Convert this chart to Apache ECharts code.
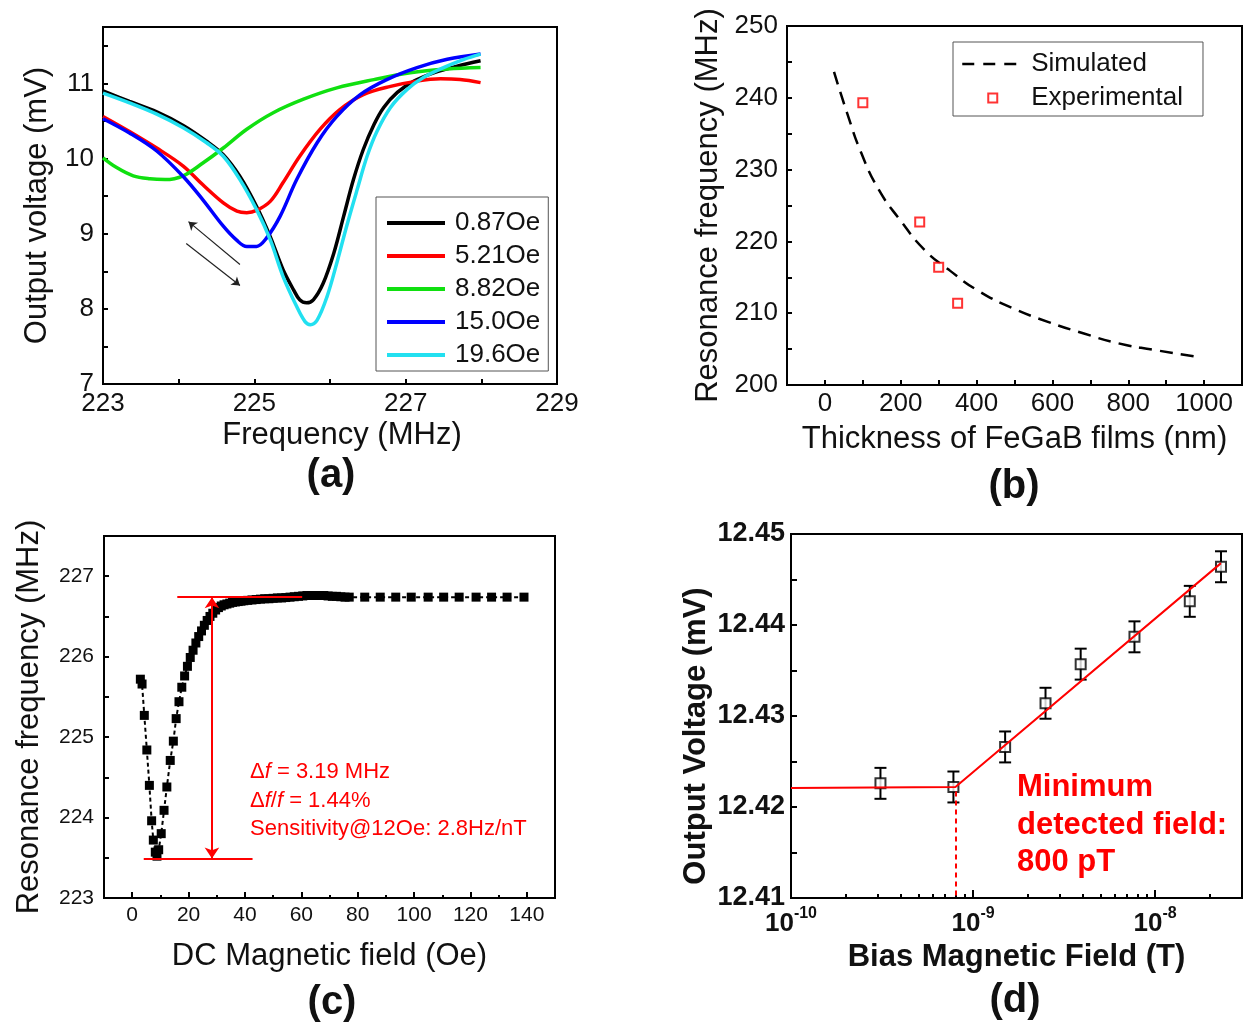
<!DOCTYPE html>
<html><head><meta charset="utf-8">
<script src="https://cdn.jsdelivr.net/npm/echarts@6/dist/echarts.min.js"></script>
<style>html,body{margin:0;padding:0;background:#fff}#c{width:1248px;height:1028px}</style>
</head><body><div id="c"></div>
<script>
// ---------- (a) output voltage vs frequency ----------
const aNames = ['0.87Oe', '5.21Oe', '8.82Oe', '15.0Oe', '19.6Oe'];
const aColors = ['#000000', '#ff0000', '#10e010', '#0000ff', '#22e0f0'];
const aFreq087 = [223.00, 223.35, 223.71, 224.06, 224.37, 224.59, 224.81, 225.03, 225.21, 225.38, 225.52, 225.60, 225.69, 225.78, 225.91, 226.05, 226.18, 226.31, 226.44, 226.58, 226.71, 226.89, 227.11, 227.37, 227.68, 227.99];
const aVolt087 = [10.90, 10.76, 10.62, 10.44, 10.23, 10.05, 9.76, 9.36, 8.96, 8.52, 8.25, 8.12, 8.08, 8.12, 8.34, 8.74, 9.23, 9.72, 10.12, 10.45, 10.68, 10.88, 11.03, 11.14, 11.23, 11.30];
const aFreq521 = [223.00, 223.35, 223.71, 224.06, 224.32, 224.59, 224.77, 224.90, 225.03, 225.21, 225.38, 225.60, 225.87, 226.13, 226.44, 226.80, 227.15, 227.46, 227.72, 227.99];
const aVolt521 = [10.56, 10.36, 10.14, 9.90, 9.65, 9.41, 9.30, 9.28, 9.31, 9.43, 9.68, 10.03, 10.39, 10.65, 10.85, 10.96, 11.03, 11.06, 11.05, 11.01];
const aFreq882 = [223.00, 223.18, 223.40, 223.62, 223.82, 224.06, 224.32, 224.59, 224.90, 225.25, 225.65, 226.09, 226.58, 227.06, 227.55, 227.99];
const aVolt882 = [10.01, 9.88, 9.77, 9.73, 9.72, 9.77, 9.94, 10.14, 10.39, 10.61, 10.79, 10.94, 11.05, 11.14, 11.19, 11.21];
const aFreq150 = [223.00, 223.35, 223.71, 224.06, 224.32, 224.59, 224.77, 224.90, 225.03, 225.16, 225.34, 225.56, 225.83, 226.09, 226.40, 226.75, 227.15, 227.55, 227.99];
const aVolt150 = [10.53, 10.34, 10.10, 9.76, 9.45, 9.10, 8.91, 8.83, 8.83, 8.94, 9.23, 9.72, 10.21, 10.56, 10.85, 11.05, 11.21, 11.32, 11.39];
const aFreq196 = [223.00, 223.35, 223.71, 224.06, 224.37, 224.59, 224.81, 225.03, 225.21, 225.38, 225.56, 225.67, 225.74, 225.83, 225.96, 226.09, 226.22, 226.36, 226.49, 226.62, 226.80, 227.02, 227.24, 227.50, 227.77, 227.99];
const aVolt196 = [10.87, 10.74, 10.59, 10.41, 10.21, 10.03, 9.72, 9.32, 8.92, 8.43, 8.03, 7.83, 7.79, 7.85, 8.16, 8.61, 9.10, 9.59, 10.03, 10.36, 10.68, 10.92, 11.08, 11.21, 11.32, 11.39];
const aArrowUp = [[224.81, 8.59], [224.13, 9.16]];
const aArrowDown = [[224.10, 8.87], [224.81, 8.31]];

// ---------- (b) resonance frequency vs thickness ----------
const bSimThick = [24, 59, 96, 142, 198, 263, 328, 402, 495, 588, 681, 774, 867, 974];
const bSimFreq = [243.6, 237.8, 232.3, 227.2, 223.0, 218.8, 216.0, 213.2, 210.7, 208.8, 207.2, 205.8, 204.9, 204.0];
const bExpThick = [100, 250, 300, 350];
const bExpFreq = [239.3, 222.7, 216.4, 211.4];

// ---------- (c) resonance frequency vs DC field ----------
const cField = [2.9, 3.5, 4.3, 5.2, 6.1, 6.9, 7.5, 8.2, 8.8, 9.4, 10.3, 11.3, 12.3, 13.5, 14.6, 15.6, 16.6, 17.6, 18.6, 19.6, 20.6, 21.6, 22.6, 23.6, 24.6, 25.6, 26.6, 27.6, 28.6, 29.6, 30.6, 31.6, 32.6, 33.6, 34.6, 35.6, 36.6, 37.6, 38.6, 39.6, 41, 42.5, 44, 45.5, 47, 48.5, 50, 51.5, 53, 54.5, 56, 57.5, 59, 60.5, 62, 63.5, 65, 66.5, 68, 69.5, 71, 72.5, 74, 75.5, 77, 82.5, 88, 93.5, 99, 105, 110.5, 116, 122, 127.5, 133, 139];
const cFreq = [225.72, 225.66, 225.27, 224.84, 224.40, 223.96, 223.72, 223.57, 223.52, 223.60, 223.80, 224.09, 224.38, 224.71, 224.95, 225.23, 225.44, 225.62, 225.76, 225.88, 225.99, 226.08, 226.17, 226.25, 226.32, 226.39, 226.45, 226.50, 226.54, 226.58, 226.61, 226.63, 226.645, 226.655, 226.665, 226.675, 226.68, 226.685, 226.69, 226.695, 226.70, 226.705, 226.71, 226.715, 226.72, 226.72, 226.725, 226.73, 226.73, 226.735, 226.74, 226.745, 226.75, 226.755, 226.76, 226.76, 226.76, 226.76, 226.76, 226.755, 226.75, 226.75, 226.745, 226.74, 226.74, 226.74, 226.74, 226.74, 226.74, 226.74, 226.74, 226.74, 226.74, 226.74, 226.74, 226.74];
const cTopLine = [[16.0, 226.74], [60.3, 226.74]];
const cBottomLine = [[4.1, 223.49], [42.7, 223.49]];
const cSpan = [[28.3, 226.74], [28.3, 223.49]];
const cXMajor = [0, 20, 40, 60, 80, 100, 120, 140];

// ---------- (d) output voltage vs bias field ----------
const dField = [3.1e-10, 7.8e-10, 1.5e-9, 2.5e-9, 3.9e-9, 7.7e-9, 1.55e-8, 2.3e-8];
const dVolt = [12.4226, 12.4222, 12.4266, 12.4314, 12.4357, 12.4387, 12.4426, 12.4464];
const dErr = [0.0017, 0.0017, 0.0017, 0.0017, 0.0017, 0.0017, 0.0017, 0.0017];
const dFitField = [1e-10, 8e-10, 2.3e-8];
const dFitVolt = [12.4221, 12.4222, 12.4468];
const dThreshold = [[8e-10, 12.4217], [8e-10, 12.41]];
const dMajor = [1e-10, 1e-9, 1e-8];
const dMinor = [2e-10, 3e-10, 4e-10, 5e-10, 6e-10, 7e-10, 8e-10, 9e-10, 2e-9, 3e-9, 4e-9, 5e-9, 6e-9, 7e-9, 8e-9, 9e-9, 2e-8, 3e-8];

const FF = "'Liberation Sans', Arial, sans-serif";
const TXT = '#111';
const zip = (xs, ys) => xs.map((x, i) => [x, ys[i]]);
const seg = (p) => [{ coord: p[0] }, { coord: p[1] }];

function boxAxis(extra) {
  return Object.assign({
    type: 'value',
    axisLine: { show: true, onZero: false, lineStyle: { color: '#000', width: 2 } },
    axisTick: { show: true, inside: true, length: 5, lineStyle: { color: '#000', width: 2 } },
    splitLine: { show: false },
    nameLocation: 'middle'
  }, extra);
}
const gridStyle = { show: true, borderColor: '#000', borderWidth: 2, backgroundColor: 'transparent' };

const chart = echarts.init(document.getElementById('c'), null, { renderer: 'canvas' });

const aSeriesData = [zip(aFreq087, aVolt087), zip(aFreq521, aVolt521), zip(aFreq882, aVolt882), zip(aFreq150, aVolt150), zip(aFreq196, aVolt196)];

const series = aSeriesData.map((d, i) => ({
  type: 'line', name: aNames[i], xAxisIndex: 0, yAxisIndex: 0, data: d,
  symbol: 'none', smooth: 0.35, lineStyle: { width: 3.5, color: aColors[i] }, itemStyle: { color: aColors[i] },
  z: 2 + i
}));
series[0].markLine = {
  silent: true, symbol: ['none', 'arrow'], symbolSize: 8, animation: false,
  lineStyle: { color: '#222', width: 1.2, type: 'solid' }, label: { show: false },
  data: [seg(aArrowUp), seg(aArrowDown)]
};

series.push({
  type: 'line', name: 'Simulated', xAxisIndex: 1, yAxisIndex: 1, data: zip(bSimThick, bSimFreq),
  smooth: true, symbol: 'none', lineStyle: { color: '#000', width: 2.5, type: [13, 8] }, itemStyle: { color: '#000' }
});
series.push({
  type: 'scatter', name: 'Experimental', xAxisIndex: 1, yAxisIndex: 1, data: zip(bExpThick, bExpFreq),
  symbol: 'rect', symbolSize: 9, itemStyle: { color: '#fff', borderColor: '#ff0000', borderWidth: 2 }, z: 5
});

series.push({
  type: 'line', name: 'cdata', xAxisIndex: 2, yAxisIndex: 2, data: zip(cField, cFreq),
  symbol: 'rect', symbolSize: 9, showSymbol: true, lineStyle: { color: '#000', width: 2, type: [4, 3] }, itemStyle: { color: '#000' },
  markLine: {
    silent: true, animation: false, symbol: 'none', symbolSize: 11,
    lineStyle: { color: '#ff0000', width: 2, type: 'solid' }, label: { show: false },
    data: [
      seg(cTopLine), seg(cBottomLine),
      [{ coord: cSpan[0], symbol: 'arrow' }, { coord: cSpan[1], symbol: 'arrow' }]
    ]
  }
});

series.push({
  type: 'custom', name: 'derr', xAxisIndex: 4, yAxisIndex: 3,
  data: dField.map((x, i) => [x, dVolt[i] - dErr[i], dVolt[i] + dErr[i]]),
  encode: { x: 0, y: [1, 2] }, z: 2,
  renderItem: (params, api) => {
    const x = api.value(0);
    const lo = api.coord([x, api.value(1)]);
    const hi = api.coord([x, api.value(2)]);
    const w = 6;
    const st = { stroke: '#000', lineWidth: 2 };
    return {
      type: 'group', children: [
        { type: 'line', shape: { x1: lo[0], y1: lo[1], x2: hi[0], y2: hi[1] }, style: st },
        { type: 'line', shape: { x1: lo[0] - w, y1: lo[1], x2: lo[0] + w, y2: lo[1] }, style: st },
        { type: 'line', shape: { x1: hi[0] - w, y1: hi[1], x2: hi[0] + w, y2: hi[1] }, style: st }
      ]
    };
  }
});
series.push({
  type: 'scatter', name: 'dpts', xAxisIndex: 4, yAxisIndex: 3, data: zip(dField, dVolt),
  symbol: 'rect', symbolSize: 10, itemStyle: { color: '#fff', borderColor: '#000', borderWidth: 2 }, z: 3
});
series.push({
  type: 'line', name: 'dfit', xAxisIndex: 4, yAxisIndex: 3, data: zip(dFitField, dFitVolt),
  symbol: 'none', lineStyle: { color: '#ff0000', width: 2 }, z: 4,
  markLine: {
    silent: true, animation: false, symbol: 'none',
    lineStyle: { color: '#ff0000', width: 2, type: [5, 4] }, label: { show: false },
    data: [seg(dThreshold)]
  }
});

const option = {
  animation: false,
  textStyle: { fontFamily: FF, color: TXT },
  grid: [
    Object.assign({ left: 103, top: 27, width: 454, height: 357 }, gridStyle),
    Object.assign({ left: 787, top: 26, width: 455, height: 359 }, gridStyle),
    Object.assign({ left: 104, top: 536, width: 451, height: 362 }, gridStyle),
    Object.assign({ left: 791, top: 534, width: 451, height: 364 }, gridStyle)
  ],
  legend: [
    {
      data: aNames, orient: 'vertical', left: 376, top: 197, padding: [13, 8, 3, 9],
      itemWidth: 58, itemHeight: 14, itemGap: 7, selectedMode: false,
      borderColor: '#555', borderWidth: 1, itemStyle: { opacity: 0 }, lineStyle: { width: 4 },
      textStyle: { fontSize: 26, lineHeight: 26, color: TXT, fontFamily: FF, padding: [0, 0, 0, 5] }
    },
    {
      data: [{ name: 'Simulated', itemStyle: { opacity: 0 } }, { name: 'Experimental', icon: 'path://M0,0L10,0L10,10L0,10Z' }],
      orient: 'vertical', left: 953, top: 42, padding: [9, 20, 5, 8],
      itemWidth: 61, itemHeight: 9, itemGap: 8, selectedMode: false,
      borderColor: '#555', borderWidth: 1, lineStyle: { width: 2.5, type: [12, 9] },
      textStyle: { fontSize: 26, lineHeight: 26, color: TXT, fontFamily: FF, padding: [0, 0, 0, 3] }
    }
  ],
  xAxis: [
    boxAxis({
      gridIndex: 0, min: 223, max: 229, interval: 1,
      axisLabel: { fontSize: 26, color: TXT, margin: 7, showMinLabel: true, showMaxLabel: true, formatter: v => (v % 2 === 1 ? String(v) : '') },
      name: 'Frequency (MHz)', nameGap: 36, nameTextStyle: { fontSize: 31, color: TXT, padding: [0, 0, 0, 24] }
    }),
    boxAxis({
      gridIndex: 1, min: -100, max: 1100, interval: 100,
      axisLabel: { fontSize: 26, color: TXT, margin: 6, showMinLabel: true, showMaxLabel: true, formatter: v => (v >= 0 && v <= 1000 && v % 200 === 0 ? String(v) : '') },
      name: 'Thickness of FeGaB films (nm)', nameGap: 39, nameTextStyle: { fontSize: 31, color: TXT }
    }),
    boxAxis({
      gridIndex: 2, min: -10, max: 150, interval: 10,
      axisTick: { show: true, inside: true, length: 3, lineStyle: { color: '#000', width: 2 } },
      axisLabel: { fontSize: 21, color: TXT, margin: 7, showMinLabel: true, showMaxLabel: true, formatter: v => (v >= 0 && v % 20 === 0 ? String(v) : '') },
      name: 'DC Magnetic field (Oe)', nameGap: 43, nameTextStyle: { fontSize: 31, color: TXT }
    }),
    boxAxis({
      gridIndex: 2, min: -10, max: 150, position: 'bottom',
      axisLine: { show: false },
      axisTick: { show: true, inside: true, length: 6, customValues: cXMajor, lineStyle: { color: '#000', width: 2 } },
      axisLabel: { show: false }
    }),
    {
      type: 'log', logBase: 10, gridIndex: 3, min: 1e-10, max: 3e-8, nameLocation: 'middle',
      axisLine: { show: true, onZero: false, lineStyle: { color: '#000', width: 2 } },
      axisTick: { show: true, inside: true, length: 8, customValues: dMajor, lineStyle: { color: '#000', width: 2 } },
      splitLine: { show: false },
      axisLabel: {
        customValues: dMajor, margin: 8, color: TXT,
        formatter: v => '{b|10}{s|' + Math.round(Math.log10(v)) + '}',
        rich: {
          b: { fontSize: 26, fontWeight: 'bold', color: TXT, fontFamily: FF },
          s: { fontSize: 16, fontWeight: 'bold', color: TXT, fontFamily: FF, padding: [0, 0, 20, 0] }
        }
      },
      name: 'Bias Magnetic Field (T)', nameGap: 44, nameTextStyle: { fontSize: 31, fontWeight: 'bold', color: TXT }
    },
    {
      type: 'log', logBase: 10, gridIndex: 3, min: 1e-10, max: 3e-8, position: 'bottom',
      axisLine: { show: false },
      axisTick: { show: true, inside: true, length: 4, customValues: dMinor, lineStyle: { color: '#000', width: 2 } },
      axisLabel: { show: false }, splitLine: { show: false }
    }
  ],
  yAxis: [
    boxAxis({
      gridIndex: 0, min: 7, max: 11.75, interval: 0.5,
      axisLabel: { fontSize: 26, color: TXT, margin: 9, showMinLabel: true, formatter: v => (Number.isInteger(v) ? String(v) : '') },
      name: 'Output voltage (mV)', nameGap: 50, nameTextStyle: { fontSize: 31, color: TXT }
    }),
    boxAxis({
      gridIndex: 1, min: 200, max: 250, interval: 5,
      axisLabel: { fontSize: 26, color: TXT, margin: 9, showMinLabel: true, showMaxLabel: true, formatter: v => (v % 10 === 0 ? String(v) : '') },
      name: 'Resonance frequency (MHz)', nameGap: 63, nameTextStyle: { fontSize: 31, color: TXT }
    }),
    boxAxis({
      gridIndex: 2, min: 223, max: 227.5, interval: 0.5,
      axisLabel: { fontSize: 21, color: TXT, margin: 10, showMinLabel: true, formatter: v => (Number.isInteger(v) ? String(v) : '') },
      name: 'Resonance frequency (MHz)', nameGap: 59, nameTextStyle: { fontSize: 31, color: TXT }
    }),
    boxAxis({
      gridIndex: 3, min: 12.41, max: 12.45, interval: 0.005,
      axisTick: { show: true, inside: true, length: 6, lineStyle: { color: '#000', width: 2 } },
      axisLabel: { fontSize: 27, fontWeight: 'bold', color: TXT, margin: 6, showMinLabel: true, showMaxLabel: true,
        formatter: v => (Math.round(v * 1000) % 10 === 0 ? v.toFixed(2) : '') },
      name: 'Output Voltage (mV)', nameGap: 79, nameTextStyle: { fontSize: 31, fontWeight: 'bold', color: TXT, padding: [0, 40, 0, 0] }
    })
  ],
  graphic: [
    { type: 'text', x: 331, y: 476, style: { text: '(a)', font: 'bold 40px ' + FF, fill: TXT, align: 'center', verticalAlign: 'middle' } },
    { type: 'text', x: 1014, y: 487, style: { text: '(b)', font: 'bold 40px ' + FF, fill: TXT, align: 'center', verticalAlign: 'middle' } },
    { type: 'text', x: 332, y: 1003, style: { text: '(c)', font: 'bold 40px ' + FF, fill: TXT, align: 'center', verticalAlign: 'middle' } },
    { type: 'text', x: 1015, y: 1001, style: { text: '(d)', font: 'bold 40px ' + FF, fill: TXT, align: 'center', verticalAlign: 'middle' } },
    { type: 'text', x: 250, y: 772, style: { text: 'Δ{i|f} = 3.19 MHz', font: '22px ' + FF, fill: '#ff0000', verticalAlign: 'middle',
      rich: { i: { fontStyle: 'italic', fontSize: 22, fontFamily: FF, fill: '#ff0000' } } } },
    { type: 'text', x: 250, y: 801, style: { text: 'Δ{i|f}/{i|f} = 1.44%', font: '22px ' + FF, fill: '#ff0000', verticalAlign: 'middle',
      rich: { i: { fontStyle: 'italic', fontSize: 22, fontFamily: FF, fill: '#ff0000' } } } },
    { type: 'text', x: 250, y: 829, style: { text: 'Sensitivity@12Oe: 2.8Hz/nT', font: '22px ' + FF, fill: '#ff0000', verticalAlign: 'middle' } },
    { type: 'text', x: 1017, y: 787, style: { text: 'Minimum', font: 'bold 31px ' + FF, fill: '#ff0000', verticalAlign: 'middle' } },
    { type: 'text', x: 1017, y: 825, style: { text: 'detected field:', font: 'bold 31px ' + FF, fill: '#ff0000', verticalAlign: 'middle' } },
    { type: 'text', x: 1017, y: 862, style: { text: '800 pT', font: 'bold 31px ' + FF, fill: '#ff0000', verticalAlign: 'middle' } }
  ],
  series: series
};
chart.setOption(option);
</script>
</body></html>
